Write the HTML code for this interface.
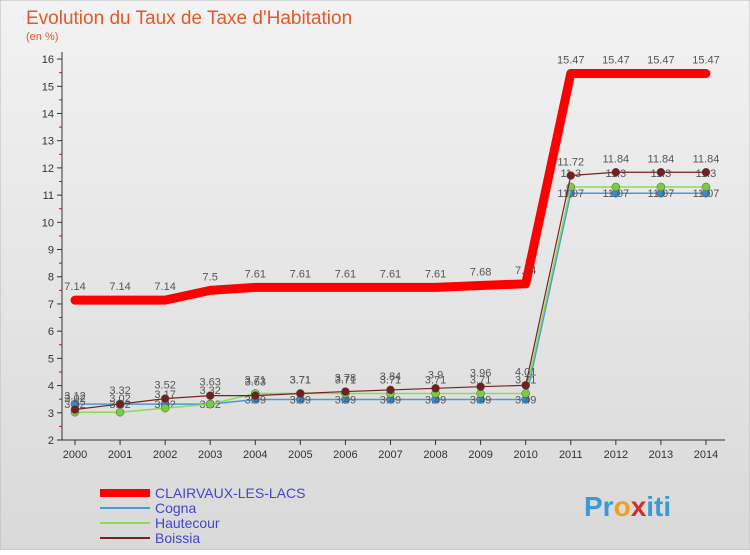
<!DOCTYPE html>
<html><head><meta charset="utf-8"><style>
body{margin:0;width:750px;height:550px;overflow:hidden;font-family:"Liberation Sans",sans-serif}
</style></head><body>
<svg width="750" height="550" xmlns="http://www.w3.org/2000/svg">
<defs><linearGradient id="bg" x1="0" y1="0" x2="0" y2="1"><stop offset="0" stop-color="#f2f2f2"/><stop offset="1" stop-color="#d9d9d9"/></linearGradient></defs>
<rect x="0" y="0" width="750" height="550" fill="url(#bg)" stroke="#bbb"/>
<text x="26" y="24" font-size="19" fill="#e05a2a">Evolution du Taux de Taxe d'Habitation</text>
<text x="26" y="40" font-size="11" fill="#e05a2a">(en %)</text>
<g id="axes"></g><g id="series"></g><g id="legend"></g>
<text x="584" y="516" font-size="28" font-weight="bold" fill="#3a9ad8">Pr<tspan fill="#f0a020">o</tspan><tspan fill="#d03030">x</tspan>iti</text>
</svg>
<script>
const years=[2000,2001,2002,2003,2004,2005,2006,2007,2008,2009,2010,2011,2012,2013,2014];
const yTicks=[2,3,4,5,6,7,8,9,10,11,12,13,14,15,16];
const clairvaux=[7.14,7.14,7.14,7.5,7.61,7.61,7.61,7.61,7.61,7.68,7.74,15.47,15.47,15.47,15.47];
const cogna=[3.32,3.32,3.32,3.32,3.49,3.49,3.49,3.49,3.49,3.49,3.49,11.07,11.07,11.07,11.07];
const hautecour=[3.02,3.02,3.17,3.32,3.71,3.71,3.71,3.71,3.71,3.71,3.71,11.3,11.3,11.3,11.3];
const boissia=[3.12,3.32,3.52,3.63,3.63,3.71,3.78,3.84,3.9,3.96,4.01,11.72,11.84,11.84,11.84];
const names=["CLAIRVAUX-LES-LACS","Cogna","Hautecour","Boissia"];
const NS="http://www.w3.org/2000/svg";
const X=i=>75+i*45.07, Y=v=>440-(v-2)*27.21;
function mk(p,t,a){const e=document.createElementNS(NS,t);for(const k in a)e.setAttribute(k,a[k]);p.appendChild(e);return e;}
const ax=document.getElementById('axes');
const yl=mk(ax,'line',{x1:62,y1:52,x2:62,y2:440,stroke:'#333'});


const xl=mk(ax,'line',{x1:62,y1:440,x2:725,y2:440,stroke:'#333'});


yTicks.forEach(v=>{mk(ax,'line',{x1:57,y1:Y(v),x2:62,y2:Y(v),stroke:'#333'});
 if(v<16)mk(ax,'line',{x1:59,y1:Y(v+0.5),x2:62,y2:Y(v+0.5),stroke:'#e00'});
 const t=mk(ax,'text',{x:54,y:Y(v)+4,'font-size':11,'text-anchor':'end',fill:'#333'});t.textContent=v;
 
 });
years.forEach((y,i)=>{mk(ax,'line',{x1:X(i),y1:440,x2:X(i),y2:445,stroke:'#333'});
 const t=mk(ax,'text',{x:X(i),y:458,'font-size':11,'text-anchor':'middle',fill:'#333'});t.textContent=y;
 
 });
const sg=document.getElementById('series');
function series(d,col,w,dot,name,lab){
 const pl=mk(sg,'polyline',{points:d.map((v,i)=>X(i)+','+Y(v)).join(' '),fill:'none',stroke:col,'stroke-width':w,'stroke-linejoin':'round','stroke-linecap':'round'});
 
 
 d.forEach((v,i)=>{if(dot){const c=mk(sg,'circle',{cx:X(i),cy:Y(v),r:4,fill:dot,stroke:'#555','stroke-width':0.5});
  
  }
  const t=mk(sg,'text',{x:X(i),y:Y(v)-lab,'font-size':11,'text-anchor':'middle',fill:'#555'});t.textContent=v;
  
  });
}
series(cogna,'#4a9ad8',1.5,'#3a8ad0','cogna',-4);
series(hautecour,'#88dd55',1.5,'#77cc44','hautecour',10);
series(boissia,'#7a2020',1.2,'#702020','boissia',10);
series(clairvaux,'#ff0000',9,null,'clairvaux',10);
const lg=document.getElementById('legend');
const cols=['#ff0000','#4a9ad8','#88dd55','#7a2020'],ws=[8,2,2,2];
names.forEach((n,i)=>{const y=493+i*15;
 const l=mk(lg,'line',{x1:100,y1:y,x2:150,y2:y,stroke:cols[i],'stroke-width':ws[i]});
 
 
 const t=mk(lg,'text',{x:155,y:y+5,'font-size':14,fill:'#4444cc'});t.textContent=n;
 
 });
</script>
</body></html>
